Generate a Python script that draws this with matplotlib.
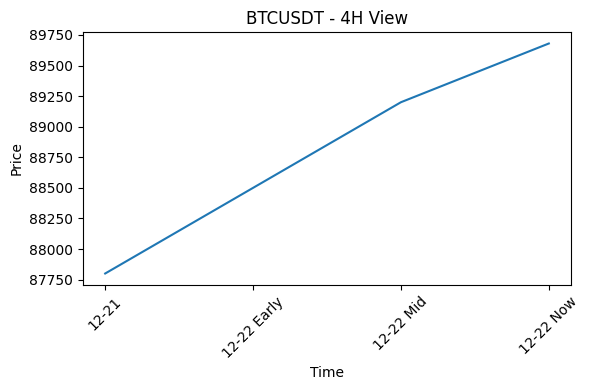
import matplotlib
matplotlib.use("Agg")
import matplotlib.pyplot as plt
from matplotlib.ticker import MultipleLocator

times = ["12-21", "12-22 Early", "12-22 Mid", "12-22 Now"]
prices = [87800, 88500, 89200, 89680]

fig, ax = plt.subplots(figsize=(5.89, 3.9), dpi=100)
ax.plot(times, prices, color="#1f77b4")
ax.set_title("BTCUSDT - 4H View")
ax.set_xlabel("Time")
ax.set_ylabel("Price")
ax.yaxis.set_major_locator(MultipleLocator(250))
plt.setp(ax.get_xticklabels(), rotation=45)
fig.subplots_adjust(left=83/589, right=571/589, top=1-32/390, bottom=1-285/390)
fig.savefig("out.png", dpi=100)
